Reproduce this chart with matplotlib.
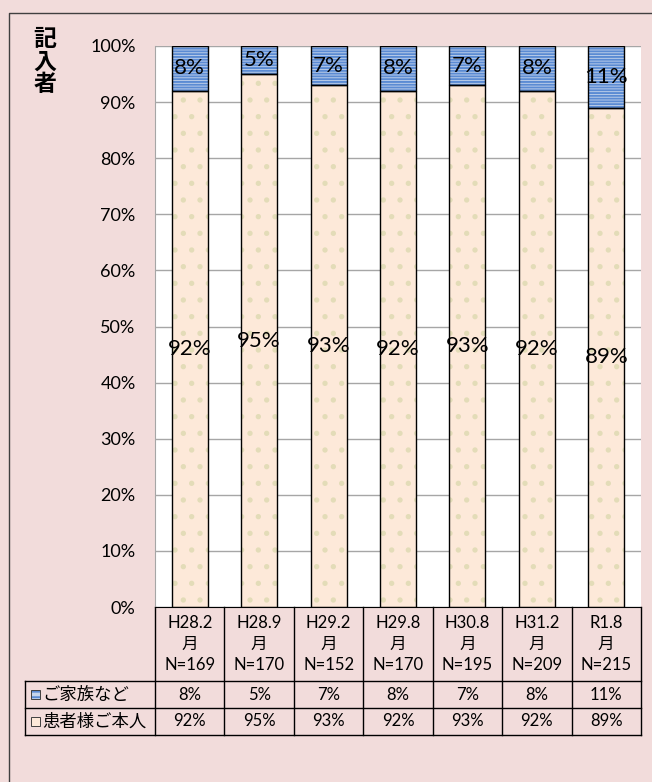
import matplotlib.pyplot as plt
from matplotlib.patches import Rectangle
from matplotlib.lines import Line2D

# ---------- Data ----------
periods = ['H28.2', 'H28.9', 'H29.2', 'H29.8', 'H30.8', 'H31.2', 'R1.8']
counts = [169, 170, 152, 170, 195, 209, 215]
self_pct = [92, 95, 93, 92, 93, 92, 89]     # 患者様ご本人
family_pct = [8, 5, 7, 8, 7, 8, 11]         # ご家族など
series_names = ['ご家族など', '患者様ご本人']

FONT = ['Lato', 'Noto Sans CJK JP', 'DejaVu Sans']
plt.rcParams['font.family'] = FONT
plt.rcParams['hatch.linewidth'] = 1.4

bg = '#f2dcdb'
W, H = 652, 782
fig = plt.figure(figsize=(W / 100, H / 100), dpi=100, facecolor=bg)

# outer frame (right and bottom run off the picture)
fig.add_artist(Line2D([8.5 / W, 8.5 / W, 1.0], [-0.01, 1 - 12.5 / H, 1 - 12.5 / H],
                      transform=fig.transFigure, color='#404040', linewidth=1))

ax = fig.add_axes([155 / W, 175 / H, 486 / W, 561 / H])
ax.set_facecolor('white')
x = range(len(periods))
n = len(periods)

# peach part with dots
ax.bar(x, self_pct, width=0.52, color='#fde9d9', hatch='.', edgecolor='#e3dcb8',
       linewidth=0, zorder=2)
ax.bar(x, self_pct, width=0.52, fill=False, edgecolor='black', linewidth=1, zorder=3)
# blue striped part
ax.bar(x, family_pct, bottom=self_pct, width=0.52, color='#c6d5ec', hatch='------',
       edgecolor='#5b8bd3', linewidth=0, zorder=2)
ax.bar(x, family_pct, bottom=self_pct, width=0.52, fill=False, edgecolor='black',
       linewidth=1, zorder=3)

for i in x:
    ax.text(i, self_pct[i] / 2, f'{self_pct[i]}%', ha='center', va='center',
            fontsize=16, zorder=4)
    ax.text(i, self_pct[i] + family_pct[i] / 2, f'{family_pct[i]}%', ha='center',
            va='center', fontsize=16, zorder=4)

ax.set_xlim(-0.5, n - 0.5)
ax.set_ylim(0, 100)
ax.set_yticks(range(0, 101, 10))
ax.set_yticklabels([f'{v}%' for v in range(0, 101, 10)], fontsize=13)
ax.tick_params(axis='y', length=0, pad=14)
ax.set_xticks([])
ax.grid(axis='y', color='#a6a6a6', linewidth=1, zorder=1)
ax.set_axisbelow(True)
for s in ['top', 'right']:
    ax.spines[s].set_visible(False)
ax.spines['left'].set_color('#a6a6a6')
ax.spines['bottom'].set_color('black')

# vertical axis title
fig.text(45 / W, 1 - 62 / H, '記\n入\n者', ha='center', va='center', fontsize=16.5,
         fontweight='bold', linespacing=0.95, family=['Noto Sans CJK JP'])

# ---------- data table ----------
tr = ax.get_xaxis_transform()
y_hdr = -74 / 561
y_r1 = -101 / 561
y_r2 = -128 / 561
left_x = -0.5 - 130 / (486 / n)

def line(xs, ys):
    ax.add_line(Line2D(xs, ys, transform=tr, color='black', linewidth=1,
                       clip_on=False))

line([-0.5, -0.5], [0, y_r2])
for i in range(n):
    line([i + 0.5, i + 0.5], [0, y_r2])
line([left_x, left_x], [y_hdr, y_r2])
for yy in (y_hdr, y_r1, y_r2):
    line([left_x, n - 0.5], [yy, yy])

for i in x:
    ax.text(i, y_hdr / 2, f'{periods[i]}\n月\nN={counts[i]}', transform=tr,
            ha='center', va='center', fontsize=12, linespacing=1.4)
    ax.text(i, (y_hdr + y_r1) / 2, f'{family_pct[i]}%', transform=tr,
            ha='center', va='center', fontsize=12)
    ax.text(i, (y_r1 + y_r2) / 2, f'{self_pct[i]}%', transform=tr,
            ha='center', va='center', fontsize=12)

# legend keys in the table
kw, kh = 0.125, 0.016
for yy0, yy1, name, face, hat, hc in [
        (y_hdr, y_r1, series_names[0], '#c6d5ec', '---', '#5b8bd3'),
        (y_r1, y_r2, series_names[1], '#fde9d9', None, None)]:
    yc = (yy0 + yy1) / 2
    ax.add_patch(Rectangle((left_x + 0.09, yc - kh / 2), kw, kh, transform=tr,
                           facecolor=face, hatch=hat, edgecolor=hc or face,
                           linewidth=0, clip_on=False))
    ax.add_patch(Rectangle((left_x + 0.09, yc - kh / 2), kw, kh, transform=tr,
                           fill=False, edgecolor='#404040', linewidth=0.7,
                           clip_on=False))
    ax.text(left_x + 0.25, yc, name, transform=tr, ha='left', va='center',
            fontsize=12.5, family=['Noto Sans CJK JP'])

fig.savefig('out.png', dpi=100, facecolor=bg)
